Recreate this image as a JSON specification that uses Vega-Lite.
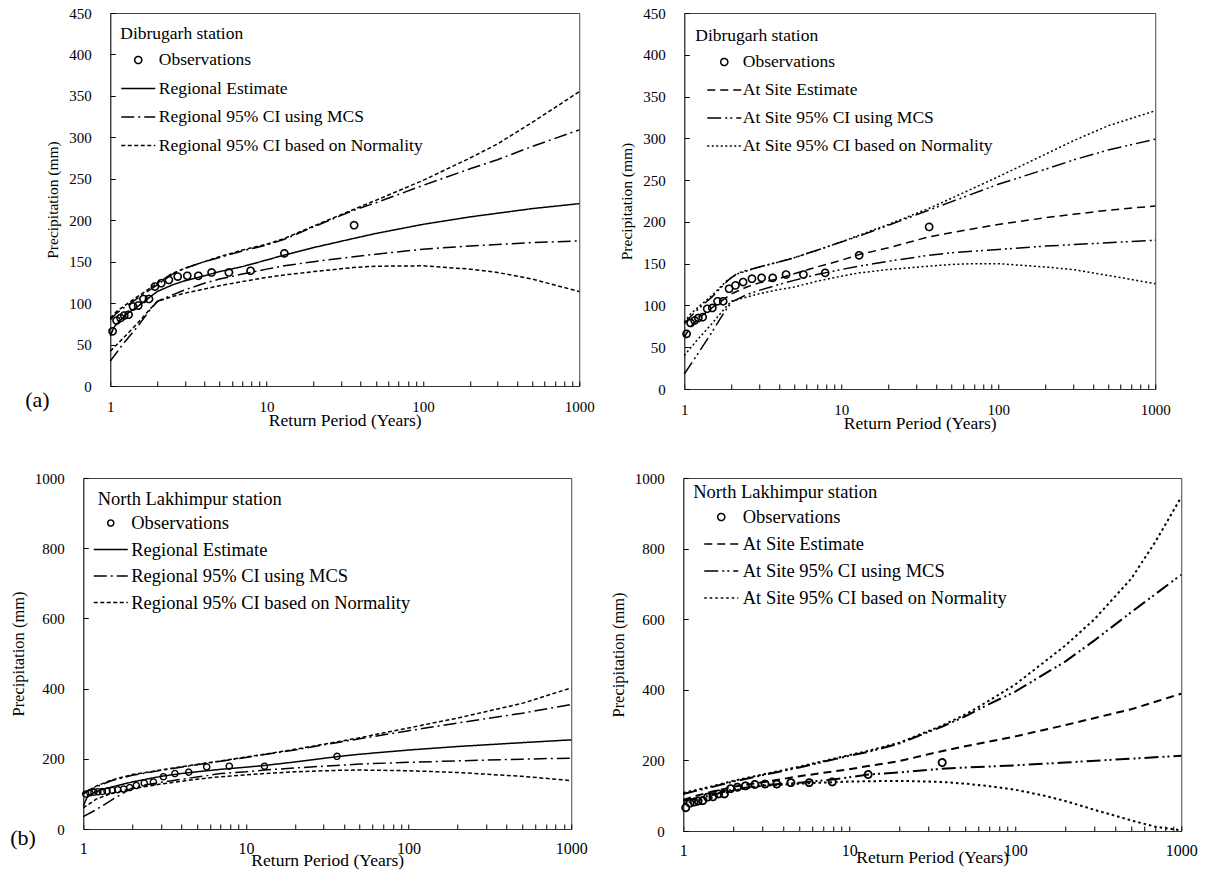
{
"$schema": "https://vega.github.io/schema/vega-lite/v6.json",
"padding": {"left": 9, "top": 5, "right": 5, "bottom": 5},
"background": "white",
"datasets": {
"obs": [
{"stn":"D","s":"Observations","T":1.035,"P":66},{"stn":"D","s":"Observations","T":1.098,"P":79},{"stn":"D","s":"Observations","T":1.164,"P":82},{"stn":"D","s":"Observations","T":1.229,"P":85},{"stn":"D","s":"Observations","T":1.31,"P":86},{"stn":"D","s":"Observations","T":1.40,"P":96},{"stn":"D","s":"Observations","T":1.51,"P":97},{"stn":"D","s":"Observations","T":1.63,"P":105},{"stn":"D","s":"Observations","T":1.77,"P":105},{"stn":"D","s":"Observations","T":1.93,"P":120},{"stn":"D","s":"Observations","T":2.12,"P":124},{"stn":"D","s":"Observations","T":2.37,"P":128},{"stn":"D","s":"Observations","T":2.70,"P":132},{"stn":"D","s":"Observations","T":3.11,"P":133},{"stn":"D","s":"Observations","T":3.66,"P":133},{"stn":"D","s":"Observations","T":4.45,"P":137},{"stn":"D","s":"Observations","T":5.74,"P":137},{"stn":"D","s":"Observations","T":7.9,"P":139},{"stn":"D","s":"Observations","T":13.0,"P":160},{"stn":"D","s":"Observations","T":36.3,"P":194},
{"stn":"N","s":"Observations","T":1.035,"P":100},{"stn":"N","s":"Observations","T":1.098,"P":103},{"stn":"N","s":"Observations","T":1.164,"P":105},{"stn":"N","s":"Observations","T":1.229,"P":106},{"stn":"N","s":"Observations","T":1.31,"P":107},{"stn":"N","s":"Observations","T":1.40,"P":108},{"stn":"N","s":"Observations","T":1.51,"P":110},{"stn":"N","s":"Observations","T":1.63,"P":112},{"stn":"N","s":"Observations","T":1.77,"P":114},{"stn":"N","s":"Observations","T":1.93,"P":118},{"stn":"N","s":"Observations","T":2.12,"P":124},{"stn":"N","s":"Observations","T":2.37,"P":131},{"stn":"N","s":"Observations","T":2.70,"P":134},{"stn":"N","s":"Observations","T":3.11,"P":149},{"stn":"N","s":"Observations","T":3.66,"P":158},{"stn":"N","s":"Observations","T":4.45,"P":162},{"stn":"N","s":"Observations","T":5.74,"P":177},{"stn":"N","s":"Observations","T":7.9,"P":179},{"stn":"N","s":"Observations","T":13.0,"P":179},{"stn":"N","s":"Observations","T":36.3,"P":207}
],
"curves": [
{"p":"A","s":"Regional Estimate","b":"m","T":1,"P":60},{"p":"A","s":"Regional Estimate","b":"m","T":1.05,"P":70},{"p":"A","s":"Regional Estimate","b":"m","T":1.1,"P":75},{"p":"A","s":"Regional Estimate","b":"m","T":1.2,"P":82},{"p":"A","s":"Regional Estimate","b":"m","T":1.3,"P":88},{"p":"A","s":"Regional Estimate","b":"m","T":1.5,"P":96},{"p":"A","s":"Regional Estimate","b":"m","T":1.7,"P":104},{"p":"A","s":"Regional Estimate","b":"m","T":2,"P":114},{"p":"A","s":"Regional Estimate","b":"m","T":2.5,"P":122},{"p":"A","s":"Regional Estimate","b":"m","T":3,"P":127},{"p":"A","s":"Regional Estimate","b":"m","T":4,"P":133},{"p":"A","s":"Regional Estimate","b":"m","T":5,"P":138},{"p":"A","s":"Regional Estimate","b":"m","T":7,"P":144},{"p":"A","s":"Regional Estimate","b":"m","T":10,"P":152},{"p":"A","s":"Regional Estimate","b":"m","T":13,"P":158},{"p":"A","s":"Regional Estimate","b":"m","T":20,"P":167},{"p":"A","s":"Regional Estimate","b":"m","T":36,"P":178},{"p":"A","s":"Regional Estimate","b":"m","T":50,"P":184},{"p":"A","s":"Regional Estimate","b":"m","T":100,"P":195},{"p":"A","s":"Regional Estimate","b":"m","T":200,"P":204},{"p":"A","s":"Regional Estimate","b":"m","T":500,"P":214},{"p":"A","s":"Regional Estimate","b":"m","T":1000,"P":220},
{"p":"A","s":"Regional 95% CI using MCS","b":"u","T":1,"P":80},{"p":"A","s":"Regional 95% CI using MCS","b":"u","T":1.1,"P":88},{"p":"A","s":"Regional 95% CI using MCS","b":"u","T":1.3,"P":98},{"p":"A","s":"Regional 95% CI using MCS","b":"u","T":1.5,"P":106},{"p":"A","s":"Regional 95% CI using MCS","b":"u","T":2,"P":122},{"p":"A","s":"Regional 95% CI using MCS","b":"u","T":2.5,"P":135},{"p":"A","s":"Regional 95% CI using MCS","b":"u","T":3,"P":142},{"p":"A","s":"Regional 95% CI using MCS","b":"u","T":4,"P":150},{"p":"A","s":"Regional 95% CI using MCS","b":"u","T":5,"P":155},{"p":"A","s":"Regional 95% CI using MCS","b":"u","T":7,"P":163},{"p":"A","s":"Regional 95% CI using MCS","b":"u","T":10,"P":170},{"p":"A","s":"Regional 95% CI using MCS","b":"u","T":13,"P":177},{"p":"A","s":"Regional 95% CI using MCS","b":"u","T":20,"P":192},{"p":"A","s":"Regional 95% CI using MCS","b":"u","T":36,"P":212},{"p":"A","s":"Regional 95% CI using MCS","b":"u","T":50,"P":221},{"p":"A","s":"Regional 95% CI using MCS","b":"u","T":100,"P":242},{"p":"A","s":"Regional 95% CI using MCS","b":"u","T":200,"P":262},{"p":"A","s":"Regional 95% CI using MCS","b":"u","T":300,"P":273},{"p":"A","s":"Regional 95% CI using MCS","b":"u","T":500,"P":289},{"p":"A","s":"Regional 95% CI using MCS","b":"u","T":1000,"P":309},
{"p":"A","s":"Regional 95% CI using MCS","b":"l","T":1,"P":30},{"p":"A","s":"Regional 95% CI using MCS","b":"l","T":1.2,"P":50},{"p":"A","s":"Regional 95% CI using MCS","b":"l","T":1.5,"P":72},{"p":"A","s":"Regional 95% CI using MCS","b":"l","T":1.8,"P":92},{"p":"A","s":"Regional 95% CI using MCS","b":"l","T":2,"P":102},{"p":"A","s":"Regional 95% CI using MCS","b":"l","T":2.5,"P":110},{"p":"A","s":"Regional 95% CI using MCS","b":"l","T":3,"P":116},{"p":"A","s":"Regional 95% CI using MCS","b":"l","T":4,"P":124},{"p":"A","s":"Regional 95% CI using MCS","b":"l","T":5,"P":129},{"p":"A","s":"Regional 95% CI using MCS","b":"l","T":7,"P":135},{"p":"A","s":"Regional 95% CI using MCS","b":"l","T":10,"P":141},{"p":"A","s":"Regional 95% CI using MCS","b":"l","T":13,"P":145},{"p":"A","s":"Regional 95% CI using MCS","b":"l","T":20,"P":150},{"p":"A","s":"Regional 95% CI using MCS","b":"l","T":36,"P":156},{"p":"A","s":"Regional 95% CI using MCS","b":"l","T":50,"P":159},{"p":"A","s":"Regional 95% CI using MCS","b":"l","T":100,"P":165},{"p":"A","s":"Regional 95% CI using MCS","b":"l","T":200,"P":169},{"p":"A","s":"Regional 95% CI using MCS","b":"l","T":500,"P":173},{"p":"A","s":"Regional 95% CI using MCS","b":"l","T":1000,"P":175},
{"p":"A","s":"Regional 95% CI based on Normality","b":"u","T":1,"P":82},{"p":"A","s":"Regional 95% CI based on Normality","b":"u","T":1.1,"P":90},{"p":"A","s":"Regional 95% CI based on Normality","b":"u","T":1.3,"P":100},{"p":"A","s":"Regional 95% CI based on Normality","b":"u","T":1.5,"P":108},{"p":"A","s":"Regional 95% CI based on Normality","b":"u","T":2,"P":124},{"p":"A","s":"Regional 95% CI based on Normality","b":"u","T":2.5,"P":136},{"p":"A","s":"Regional 95% CI based on Normality","b":"u","T":3,"P":142},{"p":"A","s":"Regional 95% CI based on Normality","b":"u","T":4,"P":150},{"p":"A","s":"Regional 95% CI based on Normality","b":"u","T":5,"P":156},{"p":"A","s":"Regional 95% CI based on Normality","b":"u","T":7,"P":164},{"p":"A","s":"Regional 95% CI based on Normality","b":"u","T":10,"P":171},{"p":"A","s":"Regional 95% CI based on Normality","b":"u","T":13,"P":178},{"p":"A","s":"Regional 95% CI based on Normality","b":"u","T":20,"P":193},{"p":"A","s":"Regional 95% CI based on Normality","b":"u","T":36,"P":213},{"p":"A","s":"Regional 95% CI based on Normality","b":"u","T":50,"P":224},{"p":"A","s":"Regional 95% CI based on Normality","b":"u","T":100,"P":248},{"p":"A","s":"Regional 95% CI based on Normality","b":"u","T":200,"P":275},{"p":"A","s":"Regional 95% CI based on Normality","b":"u","T":300,"P":292},{"p":"A","s":"Regional 95% CI based on Normality","b":"u","T":500,"P":318},{"p":"A","s":"Regional 95% CI based on Normality","b":"u","T":1000,"P":355},
{"p":"A","s":"Regional 95% CI based on Normality","b":"l","T":1,"P":42},{"p":"A","s":"Regional 95% CI based on Normality","b":"l","T":1.2,"P":57},{"p":"A","s":"Regional 95% CI based on Normality","b":"l","T":1.5,"P":76},{"p":"A","s":"Regional 95% CI based on Normality","b":"l","T":1.8,"P":93},{"p":"A","s":"Regional 95% CI based on Normality","b":"l","T":2,"P":102},{"p":"A","s":"Regional 95% CI based on Normality","b":"l","T":2.5,"P":108},{"p":"A","s":"Regional 95% CI based on Normality","b":"l","T":3,"P":112},{"p":"A","s":"Regional 95% CI based on Normality","b":"l","T":4,"P":117},{"p":"A","s":"Regional 95% CI based on Normality","b":"l","T":5,"P":121},{"p":"A","s":"Regional 95% CI based on Normality","b":"l","T":7,"P":126},{"p":"A","s":"Regional 95% CI based on Normality","b":"l","T":10,"P":131},{"p":"A","s":"Regional 95% CI based on Normality","b":"l","T":13,"P":134},{"p":"A","s":"Regional 95% CI based on Normality","b":"l","T":20,"P":138},{"p":"A","s":"Regional 95% CI based on Normality","b":"l","T":36,"P":143},{"p":"A","s":"Regional 95% CI based on Normality","b":"l","T":50,"P":144.5},{"p":"A","s":"Regional 95% CI based on Normality","b":"l","T":100,"P":145},{"p":"A","s":"Regional 95% CI based on Normality","b":"l","T":200,"P":141},{"p":"A","s":"Regional 95% CI based on Normality","b":"l","T":300,"P":137},{"p":"A","s":"Regional 95% CI based on Normality","b":"l","T":500,"P":129},{"p":"A","s":"Regional 95% CI based on Normality","b":"l","T":1000,"P":114},
{"p":"B","s":"At Site Estimate","b":"m","T":1,"P":62},{"p":"B","s":"At Site Estimate","b":"m","T":1.1,"P":75},{"p":"B","s":"At Site Estimate","b":"m","T":1.3,"P":88},{"p":"B","s":"At Site Estimate","b":"m","T":1.5,"P":97},{"p":"B","s":"At Site Estimate","b":"m","T":2,"P":114},{"p":"B","s":"At Site Estimate","b":"m","T":2.5,"P":122},{"p":"B","s":"At Site Estimate","b":"m","T":3,"P":127},{"p":"B","s":"At Site Estimate","b":"m","T":4,"P":132},{"p":"B","s":"At Site Estimate","b":"m","T":5,"P":138},{"p":"B","s":"At Site Estimate","b":"m","T":7,"P":146},{"p":"B","s":"At Site Estimate","b":"m","T":10,"P":154},{"p":"B","s":"At Site Estimate","b":"m","T":13,"P":161},{"p":"B","s":"At Site Estimate","b":"m","T":20,"P":169},{"p":"B","s":"At Site Estimate","b":"m","T":36,"P":182},{"p":"B","s":"At Site Estimate","b":"m","T":50,"P":187},{"p":"B","s":"At Site Estimate","b":"m","T":100,"P":197},{"p":"B","s":"At Site Estimate","b":"m","T":200,"P":205},{"p":"B","s":"At Site Estimate","b":"m","T":300,"P":209},{"p":"B","s":"At Site Estimate","b":"m","T":500,"P":214},{"p":"B","s":"At Site Estimate","b":"m","T":1000,"P":219},
{"p":"B","s":"At Site 95% CI using MCS","b":"u","T":1,"P":78},{"p":"B","s":"At Site 95% CI using MCS","b":"u","T":1.1,"P":87},{"p":"B","s":"At Site 95% CI using MCS","b":"u","T":1.3,"P":100},{"p":"B","s":"At Site 95% CI using MCS","b":"u","T":1.5,"P":110},{"p":"B","s":"At Site 95% CI using MCS","b":"u","T":1.9,"P":130},{"p":"B","s":"At Site 95% CI using MCS","b":"u","T":2.2,"P":139},{"p":"B","s":"At Site 95% CI using MCS","b":"u","T":3,"P":146},{"p":"B","s":"At Site 95% CI using MCS","b":"u","T":4,"P":152},{"p":"B","s":"At Site 95% CI using MCS","b":"u","T":5,"P":157},{"p":"B","s":"At Site 95% CI using MCS","b":"u","T":7,"P":166},{"p":"B","s":"At Site 95% CI using MCS","b":"u","T":10,"P":176},{"p":"B","s":"At Site 95% CI using MCS","b":"u","T":13,"P":183},{"p":"B","s":"At Site 95% CI using MCS","b":"u","T":20,"P":196},{"p":"B","s":"At Site 95% CI using MCS","b":"u","T":36,"P":214},{"p":"B","s":"At Site 95% CI using MCS","b":"u","T":50,"P":224},{"p":"B","s":"At Site 95% CI using MCS","b":"u","T":100,"P":245},{"p":"B","s":"At Site 95% CI using MCS","b":"u","T":200,"P":263},{"p":"B","s":"At Site 95% CI using MCS","b":"u","T":300,"P":274},{"p":"B","s":"At Site 95% CI using MCS","b":"u","T":500,"P":286},{"p":"B","s":"At Site 95% CI using MCS","b":"u","T":1000,"P":299},
{"p":"B","s":"At Site 95% CI using MCS","b":"l","T":1,"P":18},{"p":"B","s":"At Site 95% CI using MCS","b":"l","T":1.2,"P":40},{"p":"B","s":"At Site 95% CI using MCS","b":"l","T":1.5,"P":68},{"p":"B","s":"At Site 95% CI using MCS","b":"l","T":1.8,"P":92},{"p":"B","s":"At Site 95% CI using MCS","b":"l","T":2,"P":104},{"p":"B","s":"At Site 95% CI using MCS","b":"l","T":2.5,"P":113},{"p":"B","s":"At Site 95% CI using MCS","b":"l","T":3,"P":118},{"p":"B","s":"At Site 95% CI using MCS","b":"l","T":4,"P":125},{"p":"B","s":"At Site 95% CI using MCS","b":"l","T":5,"P":130},{"p":"B","s":"At Site 95% CI using MCS","b":"l","T":7,"P":137},{"p":"B","s":"At Site 95% CI using MCS","b":"l","T":10,"P":143},{"p":"B","s":"At Site 95% CI using MCS","b":"l","T":13,"P":147},{"p":"B","s":"At Site 95% CI using MCS","b":"l","T":20,"P":153},{"p":"B","s":"At Site 95% CI using MCS","b":"l","T":36,"P":160},{"p":"B","s":"At Site 95% CI using MCS","b":"l","T":50,"P":163},{"p":"B","s":"At Site 95% CI using MCS","b":"l","T":100,"P":167},{"p":"B","s":"At Site 95% CI using MCS","b":"l","T":200,"P":171},{"p":"B","s":"At Site 95% CI using MCS","b":"l","T":500,"P":175},{"p":"B","s":"At Site 95% CI using MCS","b":"l","T":1000,"P":178},
{"p":"B","s":"At Site 95% CI based on Normality","b":"u","T":1,"P":80},{"p":"B","s":"At Site 95% CI based on Normality","b":"u","T":1.1,"P":90},{"p":"B","s":"At Site 95% CI based on Normality","b":"u","T":1.3,"P":102},{"p":"B","s":"At Site 95% CI based on Normality","b":"u","T":1.5,"P":112},{"p":"B","s":"At Site 95% CI based on Normality","b":"u","T":1.9,"P":131},{"p":"B","s":"At Site 95% CI based on Normality","b":"u","T":2.2,"P":138},{"p":"B","s":"At Site 95% CI based on Normality","b":"u","T":3,"P":146},{"p":"B","s":"At Site 95% CI based on Normality","b":"u","T":4,"P":152},{"p":"B","s":"At Site 95% CI based on Normality","b":"u","T":5,"P":157},{"p":"B","s":"At Site 95% CI based on Normality","b":"u","T":7,"P":166},{"p":"B","s":"At Site 95% CI based on Normality","b":"u","T":10,"P":176},{"p":"B","s":"At Site 95% CI based on Normality","b":"u","T":13,"P":184},{"p":"B","s":"At Site 95% CI based on Normality","b":"u","T":20,"P":197},{"p":"B","s":"At Site 95% CI based on Normality","b":"u","T":36,"P":216},{"p":"B","s":"At Site 95% CI based on Normality","b":"u","T":50,"P":228},{"p":"B","s":"At Site 95% CI based on Normality","b":"u","T":100,"P":254},{"p":"B","s":"At Site 95% CI based on Normality","b":"u","T":200,"P":281},{"p":"B","s":"At Site 95% CI based on Normality","b":"u","T":300,"P":297},{"p":"B","s":"At Site 95% CI based on Normality","b":"u","T":500,"P":315},{"p":"B","s":"At Site 95% CI based on Normality","b":"u","T":1000,"P":333},
{"p":"B","s":"At Site 95% CI based on Normality","b":"l","T":1,"P":40},{"p":"B","s":"At Site 95% CI based on Normality","b":"l","T":1.2,"P":58},{"p":"B","s":"At Site 95% CI based on Normality","b":"l","T":1.5,"P":78},{"p":"B","s":"At Site 95% CI based on Normality","b":"l","T":1.8,"P":96},{"p":"B","s":"At Site 95% CI based on Normality","b":"l","T":2,"P":105},{"p":"B","s":"At Site 95% CI based on Normality","b":"l","T":2.5,"P":110},{"p":"B","s":"At Site 95% CI based on Normality","b":"l","T":3,"P":114},{"p":"B","s":"At Site 95% CI based on Normality","b":"l","T":4,"P":119},{"p":"B","s":"At Site 95% CI based on Normality","b":"l","T":5,"P":122},{"p":"B","s":"At Site 95% CI based on Normality","b":"l","T":7,"P":129},{"p":"B","s":"At Site 95% CI based on Normality","b":"l","T":10,"P":135},{"p":"B","s":"At Site 95% CI based on Normality","b":"l","T":13,"P":139},{"p":"B","s":"At Site 95% CI based on Normality","b":"l","T":20,"P":143},{"p":"B","s":"At Site 95% CI based on Normality","b":"l","T":36,"P":147},{"p":"B","s":"At Site 95% CI based on Normality","b":"l","T":50,"P":149},{"p":"B","s":"At Site 95% CI based on Normality","b":"l","T":70,"P":150},{"p":"B","s":"At Site 95% CI based on Normality","b":"l","T":100,"P":150},{"p":"B","s":"At Site 95% CI based on Normality","b":"l","T":200,"P":146},{"p":"B","s":"At Site 95% CI based on Normality","b":"l","T":300,"P":143},{"p":"B","s":"At Site 95% CI based on Normality","b":"l","T":500,"P":136},{"p":"B","s":"At Site 95% CI based on Normality","b":"l","T":1000,"P":126},
{"p":"C","s":"Regional Estimate","b":"m","T":1,"P":65},{"p":"C","s":"Regional Estimate","b":"m","T":1.05,"P":88},{"p":"C","s":"Regional Estimate","b":"m","T":1.1,"P":98},{"p":"C","s":"Regional Estimate","b":"m","T":1.2,"P":106},{"p":"C","s":"Regional Estimate","b":"m","T":1.3,"P":112},{"p":"C","s":"Regional Estimate","b":"m","T":1.5,"P":120},{"p":"C","s":"Regional Estimate","b":"m","T":2,"P":134},{"p":"C","s":"Regional Estimate","b":"m","T":3,"P":150},{"p":"C","s":"Regional Estimate","b":"m","T":4,"P":158},{"p":"C","s":"Regional Estimate","b":"m","T":5,"P":163},{"p":"C","s":"Regional Estimate","b":"m","T":7,"P":170},{"p":"C","s":"Regional Estimate","b":"m","T":10,"P":176},{"p":"C","s":"Regional Estimate","b":"m","T":13,"P":181},{"p":"C","s":"Regional Estimate","b":"m","T":20,"P":191},{"p":"C","s":"Regional Estimate","b":"m","T":36,"P":206},{"p":"C","s":"Regional Estimate","b":"m","T":50,"P":213},{"p":"C","s":"Regional Estimate","b":"m","T":100,"P":225},{"p":"C","s":"Regional Estimate","b":"m","T":200,"P":235},{"p":"C","s":"Regional Estimate","b":"m","T":500,"P":246},{"p":"C","s":"Regional Estimate","b":"m","T":1000,"P":254},
{"p":"C","s":"Regional 95% CI using MCS","b":"u","T":1,"P":100},{"p":"C","s":"Regional 95% CI using MCS","b":"u","T":1.2,"P":120},{"p":"C","s":"Regional 95% CI using MCS","b":"u","T":1.5,"P":138},{"p":"C","s":"Regional 95% CI using MCS","b":"u","T":2,"P":153},{"p":"C","s":"Regional 95% CI using MCS","b":"u","T":3,"P":167},{"p":"C","s":"Regional 95% CI using MCS","b":"u","T":5,"P":183},{"p":"C","s":"Regional 95% CI using MCS","b":"u","T":7,"P":193},{"p":"C","s":"Regional 95% CI using MCS","b":"u","T":10,"P":204},{"p":"C","s":"Regional 95% CI using MCS","b":"u","T":13,"P":212},{"p":"C","s":"Regional 95% CI using MCS","b":"u","T":20,"P":225},{"p":"C","s":"Regional 95% CI using MCS","b":"u","T":36,"P":246},{"p":"C","s":"Regional 95% CI using MCS","b":"u","T":50,"P":257},{"p":"C","s":"Regional 95% CI using MCS","b":"u","T":100,"P":280},{"p":"C","s":"Regional 95% CI using MCS","b":"u","T":200,"P":302},{"p":"C","s":"Regional 95% CI using MCS","b":"u","T":500,"P":330},{"p":"C","s":"Regional 95% CI using MCS","b":"u","T":1000,"P":355},
{"p":"C","s":"Regional 95% CI using MCS","b":"l","T":1,"P":35},{"p":"C","s":"Regional 95% CI using MCS","b":"l","T":1.2,"P":55},{"p":"C","s":"Regional 95% CI using MCS","b":"l","T":1.5,"P":83},{"p":"C","s":"Regional 95% CI using MCS","b":"l","T":1.8,"P":105},{"p":"C","s":"Regional 95% CI using MCS","b":"l","T":2,"P":117},{"p":"C","s":"Regional 95% CI using MCS","b":"l","T":2.5,"P":127},{"p":"C","s":"Regional 95% CI using MCS","b":"l","T":3,"P":133},{"p":"C","s":"Regional 95% CI using MCS","b":"l","T":5,"P":148},{"p":"C","s":"Regional 95% CI using MCS","b":"l","T":7,"P":158},{"p":"C","s":"Regional 95% CI using MCS","b":"l","T":10,"P":163},{"p":"C","s":"Regional 95% CI using MCS","b":"l","T":13,"P":168},{"p":"C","s":"Regional 95% CI using MCS","b":"l","T":20,"P":174},{"p":"C","s":"Regional 95% CI using MCS","b":"l","T":36,"P":181},{"p":"C","s":"Regional 95% CI using MCS","b":"l","T":50,"P":185},{"p":"C","s":"Regional 95% CI using MCS","b":"l","T":100,"P":190},{"p":"C","s":"Regional 95% CI using MCS","b":"l","T":200,"P":194},{"p":"C","s":"Regional 95% CI using MCS","b":"l","T":500,"P":199},{"p":"C","s":"Regional 95% CI using MCS","b":"l","T":1000,"P":202},
{"p":"C","s":"Regional 95% CI based on Normality","b":"u","T":1,"P":102},{"p":"C","s":"Regional 95% CI based on Normality","b":"u","T":1.2,"P":122},{"p":"C","s":"Regional 95% CI based on Normality","b":"u","T":1.5,"P":140},{"p":"C","s":"Regional 95% CI based on Normality","b":"u","T":2,"P":155},{"p":"C","s":"Regional 95% CI based on Normality","b":"u","T":3,"P":168},{"p":"C","s":"Regional 95% CI based on Normality","b":"u","T":5,"P":184},{"p":"C","s":"Regional 95% CI based on Normality","b":"u","T":7,"P":194},{"p":"C","s":"Regional 95% CI based on Normality","b":"u","T":10,"P":205},{"p":"C","s":"Regional 95% CI based on Normality","b":"u","T":13,"P":213},{"p":"C","s":"Regional 95% CI based on Normality","b":"u","T":20,"P":227},{"p":"C","s":"Regional 95% CI based on Normality","b":"u","T":36,"P":248},{"p":"C","s":"Regional 95% CI based on Normality","b":"u","T":50,"P":260},{"p":"C","s":"Regional 95% CI based on Normality","b":"u","T":100,"P":288},{"p":"C","s":"Regional 95% CI based on Normality","b":"u","T":200,"P":316},{"p":"C","s":"Regional 95% CI based on Normality","b":"u","T":500,"P":358},{"p":"C","s":"Regional 95% CI based on Normality","b":"u","T":1000,"P":402},
{"p":"C","s":"Regional 95% CI based on Normality","b":"l","T":1,"P":60},{"p":"C","s":"Regional 95% CI based on Normality","b":"l","T":1.2,"P":85},{"p":"C","s":"Regional 95% CI based on Normality","b":"l","T":1.5,"P":102},{"p":"C","s":"Regional 95% CI based on Normality","b":"l","T":2,"P":115},{"p":"C","s":"Regional 95% CI based on Normality","b":"l","T":3,"P":128},{"p":"C","s":"Regional 95% CI based on Normality","b":"l","T":5,"P":142},{"p":"C","s":"Regional 95% CI based on Normality","b":"l","T":7,"P":149},{"p":"C","s":"Regional 95% CI based on Normality","b":"l","T":10,"P":154},{"p":"C","s":"Regional 95% CI based on Normality","b":"l","T":13,"P":158},{"p":"C","s":"Regional 95% CI based on Normality","b":"l","T":20,"P":163},{"p":"C","s":"Regional 95% CI based on Normality","b":"l","T":36,"P":167},{"p":"C","s":"Regional 95% CI based on Normality","b":"l","T":50,"P":168},{"p":"C","s":"Regional 95% CI based on Normality","b":"l","T":100,"P":166},{"p":"C","s":"Regional 95% CI based on Normality","b":"l","T":200,"P":161},{"p":"C","s":"Regional 95% CI based on Normality","b":"l","T":500,"P":150},{"p":"C","s":"Regional 95% CI based on Normality","b":"l","T":1000,"P":138},
{"p":"D","s":"At Site Estimate","b":"m","T":1,"P":88},{"p":"D","s":"At Site Estimate","b":"m","T":1.2,"P":100},{"p":"D","s":"At Site Estimate","b":"m","T":1.5,"P":112},{"p":"D","s":"At Site Estimate","b":"m","T":2,"P":125},{"p":"D","s":"At Site Estimate","b":"m","T":3,"P":138},{"p":"D","s":"At Site Estimate","b":"m","T":5,"P":155},{"p":"D","s":"At Site Estimate","b":"m","T":7,"P":165},{"p":"D","s":"At Site Estimate","b":"m","T":10,"P":175},{"p":"D","s":"At Site Estimate","b":"m","T":13,"P":184},{"p":"D","s":"At Site Estimate","b":"m","T":20,"P":198},{"p":"D","s":"At Site Estimate","b":"m","T":36,"P":226},{"p":"D","s":"At Site Estimate","b":"m","T":50,"P":240},{"p":"D","s":"At Site Estimate","b":"m","T":100,"P":268},{"p":"D","s":"At Site Estimate","b":"m","T":200,"P":300},{"p":"D","s":"At Site Estimate","b":"m","T":500,"P":345},{"p":"D","s":"At Site Estimate","b":"m","T":1000,"P":389},
{"p":"D","s":"At Site 95% CI using MCS","b":"u","T":1,"P":105},{"p":"D","s":"At Site 95% CI using MCS","b":"u","T":1.5,"P":125},{"p":"D","s":"At Site 95% CI using MCS","b":"u","T":2,"P":140},{"p":"D","s":"At Site 95% CI using MCS","b":"u","T":3,"P":158},{"p":"D","s":"At Site 95% CI using MCS","b":"u","T":5,"P":180},{"p":"D","s":"At Site 95% CI using MCS","b":"u","T":7,"P":196},{"p":"D","s":"At Site 95% CI using MCS","b":"u","T":10,"P":213},{"p":"D","s":"At Site 95% CI using MCS","b":"u","T":13,"P":224},{"p":"D","s":"At Site 95% CI using MCS","b":"u","T":20,"P":248},{"p":"D","s":"At Site 95% CI using MCS","b":"u","T":36,"P":295},{"p":"D","s":"At Site 95% CI using MCS","b":"u","T":50,"P":325},{"p":"D","s":"At Site 95% CI using MCS","b":"u","T":70,"P":360},{"p":"D","s":"At Site 95% CI using MCS","b":"u","T":100,"P":395},{"p":"D","s":"At Site 95% CI using MCS","b":"u","T":200,"P":480},{"p":"D","s":"At Site 95% CI using MCS","b":"u","T":300,"P":540},{"p":"D","s":"At Site 95% CI using MCS","b":"u","T":500,"P":620},{"p":"D","s":"At Site 95% CI using MCS","b":"u","T":1000,"P":726},
{"p":"D","s":"At Site 95% CI using MCS","b":"l","T":1,"P":85},{"p":"D","s":"At Site 95% CI using MCS","b":"l","T":1.5,"P":102},{"p":"D","s":"At Site 95% CI using MCS","b":"l","T":2,"P":118},{"p":"D","s":"At Site 95% CI using MCS","b":"l","T":3,"P":130},{"p":"D","s":"At Site 95% CI using MCS","b":"l","T":5,"P":137},{"p":"D","s":"At Site 95% CI using MCS","b":"l","T":7,"P":143},{"p":"D","s":"At Site 95% CI using MCS","b":"l","T":10,"P":152},{"p":"D","s":"At Site 95% CI using MCS","b":"l","T":13,"P":160},{"p":"D","s":"At Site 95% CI using MCS","b":"l","T":20,"P":166},{"p":"D","s":"At Site 95% CI using MCS","b":"l","T":36,"P":176},{"p":"D","s":"At Site 95% CI using MCS","b":"l","T":50,"P":180},{"p":"D","s":"At Site 95% CI using MCS","b":"l","T":100,"P":186},{"p":"D","s":"At Site 95% CI using MCS","b":"l","T":200,"P":194},{"p":"D","s":"At Site 95% CI using MCS","b":"l","T":500,"P":205},{"p":"D","s":"At Site 95% CI using MCS","b":"l","T":1000,"P":213},
{"p":"D","s":"At Site 95% CI based on Normality","b":"u","T":1,"P":108},{"p":"D","s":"At Site 95% CI based on Normality","b":"u","T":1.5,"P":127},{"p":"D","s":"At Site 95% CI based on Normality","b":"u","T":2,"P":142},{"p":"D","s":"At Site 95% CI based on Normality","b":"u","T":3,"P":160},{"p":"D","s":"At Site 95% CI based on Normality","b":"u","T":5,"P":182},{"p":"D","s":"At Site 95% CI based on Normality","b":"u","T":7,"P":198},{"p":"D","s":"At Site 95% CI based on Normality","b":"u","T":10,"P":215},{"p":"D","s":"At Site 95% CI based on Normality","b":"u","T":13,"P":227},{"p":"D","s":"At Site 95% CI based on Normality","b":"u","T":20,"P":250},{"p":"D","s":"At Site 95% CI based on Normality","b":"u","T":36,"P":298},{"p":"D","s":"At Site 95% CI based on Normality","b":"u","T":50,"P":330},{"p":"D","s":"At Site 95% CI based on Normality","b":"u","T":70,"P":370},{"p":"D","s":"At Site 95% CI based on Normality","b":"u","T":100,"P":415},{"p":"D","s":"At Site 95% CI based on Normality","b":"u","T":200,"P":525},{"p":"D","s":"At Site 95% CI based on Normality","b":"u","T":300,"P":600},{"p":"D","s":"At Site 95% CI based on Normality","b":"u","T":500,"P":715},{"p":"D","s":"At Site 95% CI based on Normality","b":"u","T":700,"P":820},{"p":"D","s":"At Site 95% CI based on Normality","b":"u","T":1000,"P":946},
{"p":"D","s":"At Site 95% CI based on Normality","b":"l","T":1,"P":78},{"p":"D","s":"At Site 95% CI based on Normality","b":"l","T":1.5,"P":95},{"p":"D","s":"At Site 95% CI based on Normality","b":"l","T":2,"P":115},{"p":"D","s":"At Site 95% CI based on Normality","b":"l","T":3,"P":128},{"p":"D","s":"At Site 95% CI based on Normality","b":"l","T":5,"P":134},{"p":"D","s":"At Site 95% CI based on Normality","b":"l","T":7,"P":137},{"p":"D","s":"At Site 95% CI based on Normality","b":"l","T":10,"P":140},{"p":"D","s":"At Site 95% CI based on Normality","b":"l","T":13,"P":141},{"p":"D","s":"At Site 95% CI based on Normality","b":"l","T":20,"P":142},{"p":"D","s":"At Site 95% CI based on Normality","b":"l","T":36,"P":139},{"p":"D","s":"At Site 95% CI based on Normality","b":"l","T":50,"P":134},{"p":"D","s":"At Site 95% CI based on Normality","b":"l","T":70,"P":127},{"p":"D","s":"At Site 95% CI based on Normality","b":"l","T":100,"P":117},{"p":"D","s":"At Site 95% CI based on Normality","b":"l","T":150,"P":100},{"p":"D","s":"At Site 95% CI based on Normality","b":"l","T":200,"P":85},{"p":"D","s":"At Site 95% CI based on Normality","b":"l","T":300,"P":60},{"p":"D","s":"At Site 95% CI based on Normality","b":"l","T":500,"P":30},{"p":"D","s":"At Site 95% CI based on Normality","b":"l","T":700,"P":12},{"p":"D","s":"At Site 95% CI based on Normality","b":"l","T":1000,"P":2}
]
},
"vconcat": [
{"hconcat": [
{"width": 469, "height": 373,
 "title": {"text": "(a)", "orient": "bottom", "anchor": "start", "frame": "group", "align": "left", "dx": -85, "dy": -39, "fontSize": 22, "fontWeight": "normal", "offset": 0},
 "layer": [
 {"data": {"name": "curves"}, "transform": [{"filter": "datum.p === 'A'"}],
  "mark": {"type": "line", "color": "black", "strokeWidth": 1.5},
  "encoding": {
   "x": {"field": "T", "type": "quantitative", "scale": {"type": "log", "domain": [1, 1000]}, "axis": {"title": "Return Period (Years)", "values": [1,2,3,4,5,6,7,8,9,10,20,30,40,50,60,70,80,90,100,200,300,400,500,600,700,800,900,1000], "format": "d", "labelExpr": "indexof([1,10,100,1000], datum.value) >= 0 ? datum.label : ''"}},
   "y": {"field": "P", "type": "quantitative", "scale": {"domain": [0, 450]}, "axis": {"title": "Precipitation (mm)", "format": "d", "values": [0,50,100,150,200,250,300,350,400,450]}},
   "detail": {"field": "b", "type": "nominal"},
   "strokeDash": {"field": "s", "type": "nominal", "scale": {"domain": ["Observations","Regional Estimate","Regional 95% CI using MCS","Regional 95% CI based on Normality"], "range": [[1,0],[1,0],[13,4,2,4],[4,2.5]]}, "legend": {"title": "Dibrugarh station", "orient": "none", "legendX": 10, "legendY": 12, "symbolOffset": 8.5, "labelOffset": 11, "rowPadding": 10.5, "titleFontSize": 17.5, "labelFontSize": 17.5}}
  }},
 {"data": {"name": "obs"}, "transform": [{"filter": "datum.stn === 'D'"}],
  "mark": {"type": "point", "filled": false, "color": "black", "strokeWidth": 1.6, "size": 289, "opacity": 1},
  "encoding": {
   "x": {"field": "T", "type": "quantitative"},
   "y": {"field": "P", "type": "quantitative"},
   "shape": {"field": "s", "type": "nominal", "scale": {"domain": ["Observations","Regional Estimate","Regional 95% CI using MCS","Regional 95% CI based on Normality"], "range": ["M0.42,0A0.42,0.42,0,1,1,-0.42,0A0.42,0.42,0,1,1,0.42,0Z","M-2,0L2,0","M-2,0L2,0","M-2,0L2,0"]}, "legend": {"title": "Dibrugarh station", "orient": "none", "legendX": 10, "legendY": 12, "symbolOffset": 8.5, "labelOffset": 11, "rowPadding": 10.5, "titleFontSize": 17.5, "labelFontSize": 17.5}},
   "strokeDash": {"field": "s", "type": "nominal", "legend": {"title": "Dibrugarh station", "orient": "none", "legendX": 10, "legendY": 12, "symbolOffset": 8.5, "labelOffset": 11, "rowPadding": 10.5, "titleFontSize": 17.5, "labelFontSize": 17.5}}
  }}
 ]},
{"width": 471, "height": 376,
 "layer": [
 {"data": {"name": "curves"}, "transform": [{"filter": "datum.p === 'B'"}],
  "mark": {"type": "line", "color": "black", "strokeWidth": 1.5},
  "encoding": {
   "x": {"field": "T", "type": "quantitative", "scale": {"type": "log", "domain": [1, 1000]}, "axis": {"title": "Return Period (Years)", "values": [1,2,3,4,5,6,7,8,9,10,20,30,40,50,60,70,80,90,100,200,300,400,500,600,700,800,900,1000], "format": "d", "labelExpr": "indexof([1,10,100,1000], datum.value) >= 0 ? datum.label : ''"}},
   "y": {"field": "P", "type": "quantitative", "scale": {"domain": [0, 450]}, "axis": {"title": "Precipitation (mm)", "format": "d", "values": [0,50,100,150,200,250,300,350,400,450]}},
   "detail": {"field": "b", "type": "nominal"},
   "strokeDash": {"field": "s", "type": "nominal", "scale": {"domain": ["Observations","At Site Estimate","At Site 95% CI using MCS","At Site 95% CI based on Normality"], "range": [[1,0],[8,5],[14,4,2,3,2,4],[2,2.5]]}, "legend": {"title": "Dibrugarh station", "orient": "none", "legendX": 11, "legendY": 14, "symbolOffset": 19.5, "labelOffset": 9, "rowPadding": 10, "titleFontSize": 17.5, "labelFontSize": 17.5}}
  }},
 {"data": {"name": "obs"}, "transform": [{"filter": "datum.stn === 'D'"}],
  "mark": {"type": "point", "filled": false, "color": "black", "strokeWidth": 1.6, "size": 289, "opacity": 1},
  "encoding": {
   "x": {"field": "T", "type": "quantitative"},
   "y": {"field": "P", "type": "quantitative"},
   "shape": {"field": "s", "type": "nominal", "scale": {"domain": ["Observations","At Site Estimate","At Site 95% CI using MCS","At Site 95% CI based on Normality"], "range": ["M0.42,0A0.42,0.42,0,1,1,-0.42,0A0.42,0.42,0,1,1,0.42,0Z","M-2,0L2,0","M-2,0L2,0","M-2,0L2,0"]}, "legend": {"title": "Dibrugarh station", "orient": "none", "legendX": 11, "legendY": 14, "symbolOffset": 19.5, "labelOffset": 9, "rowPadding": 10, "titleFontSize": 17.5, "labelFontSize": 17.5}},
   "strokeDash": {"field": "s", "type": "nominal", "legend": {"title": "Dibrugarh station", "orient": "none", "legendX": 11, "legendY": 14, "symbolOffset": 19.5, "labelOffset": 9, "rowPadding": 10, "titleFontSize": 17.5, "labelFontSize": 17.5}}
  }}
 ]}
], "spacing": 105, "bounds": "flush",
 "resolve": {"scale": {"shape": "independent", "strokeDash": "independent"}, "legend": {"shape": "independent", "strokeDash": "independent"}}},
{"hconcat": [
{"width": 488, "height": 351,
 "title": {"text": "(b)", "orient": "bottom", "anchor": "start", "frame": "group", "align": "left", "dx": -73, "dy": -41, "fontSize": 22, "fontWeight": "normal", "offset": 0},
 "layer": [
 {"data": {"name": "curves"}, "transform": [{"filter": "datum.p === 'C'"}],
  "mark": {"type": "line", "color": "black", "strokeWidth": 1.5},
  "encoding": {
   "x": {"field": "T", "type": "quantitative", "scale": {"type": "log", "domain": [1, 1000]}, "axis": {"title": "Return Period (Years)", "labelPadding": 16, "titlePadding": -5, "labelFontSize": 16, "values": [1,2,3,4,5,6,7,8,9,10,20,30,40,50,60,70,80,90,100,200,300,400,500,600,700,800,900,1000], "format": "d", "labelExpr": "indexof([1,10,100,1000], datum.value) >= 0 ? datum.label : ''"}},
   "y": {"field": "P", "type": "quantitative", "scale": {"domain": [0, 1000]}, "axis": {"title": "Precipitation (mm)", "titleFontSize": 16.5, "format": "d", "values": [0,200,400,600,800,1000]}},
   "detail": {"field": "b", "type": "nominal"},
   "strokeDash": {"field": "s", "type": "nominal", "scale": {"domain": ["Observations","Regional Estimate","Regional 95% CI using MCS","Regional 95% CI based on Normality"], "range": [[1,0],[1,0],[13,4,2,4],[4,2.5]]}, "legend": {"title": "North Lakhimpur station", "orient": "none", "legendX": 14.5, "legendY": 12, "symbolOffset": 3.5, "labelOffset": 11, "rowPadding": 7.5, "titlePadding": 5, "titleFontSize": 18.5, "labelFontSize": 18.5}}
  }},
 {"data": {"name": "obs"}, "transform": [{"filter": "datum.stn === 'N'"}],
  "mark": {"type": "point", "filled": false, "color": "black", "strokeWidth": 1.4, "size": 289, "opacity": 1},
  "encoding": {
   "x": {"field": "T", "type": "quantitative"},
   "y": {"field": "P", "type": "quantitative"},
   "shape": {"field": "s", "type": "nominal", "scale": {"domain": ["Observations","Regional Estimate","Regional 95% CI using MCS","Regional 95% CI based on Normality"], "range": ["M0.36,0A0.36,0.36,0,1,1,-0.36,0A0.36,0.36,0,1,1,0.36,0Z","M-2,0L2,0","M-2,0L2,0","M-2,0L2,0"]}, "legend": {"title": "North Lakhimpur station", "orient": "none", "legendX": 14.5, "legendY": 12, "symbolOffset": 3.5, "labelOffset": 11, "rowPadding": 7.5, "titlePadding": 5, "titleFontSize": 18.5, "labelFontSize": 18.5}},
   "strokeDash": {"field": "s", "type": "nominal", "legend": {"title": "North Lakhimpur station", "orient": "none", "legendX": 14.5, "legendY": 12, "symbolOffset": 3.5, "labelOffset": 11, "rowPadding": 7.5, "titlePadding": 5, "titleFontSize": 18.5, "labelFontSize": 18.5}}
  }}
 ]},
{"width": 498, "height": 353,
 "layer": [
 {"data": {"name": "curves"}, "transform": [{"filter": "datum.p === 'D'"}],
  "mark": {"type": "line", "color": "black", "strokeWidth": 2},
  "encoding": {
   "x": {"field": "T", "type": "quantitative", "scale": {"type": "log", "domain": [1, 1000]}, "axis": {"title": "Return Period (Years)", "labelPadding": 16, "titlePadding": -10, "labelFontSize": 16, "values": [1,2,3,4,5,6,7,8,9,10,20,30,40,50,60,70,80,90,100,200,300,400,500,600,700,800,900,1000], "format": "d", "labelExpr": "indexof([1,10,100,1000], datum.value) >= 0 ? datum.label : ''"}},
   "y": {"field": "P", "type": "quantitative", "scale": {"domain": [0, 1000]}, "axis": {"title": "Precipitation (mm)", "titleFontSize": 16.5, "format": "d", "values": [0,200,400,600,800,1000]}},
   "detail": {"field": "b", "type": "nominal"},
   "strokeDash": {"field": "s", "type": "nominal", "scale": {"domain": ["Observations","At Site Estimate","At Site 95% CI using MCS","At Site 95% CI based on Normality"], "range": [[1,0],[8,5],[14,4,2,3,2,4],[2.5,3]]}, "legend": {"title": "North Lakhimpur station", "orient": "none", "legendX": 10, "legendY": 5, "symbolOffset": 18.5, "labelOffset": 12, "rowPadding": 8, "titlePadding": 6, "titleFontSize": 18.5, "labelFontSize": 18.5}}
  }},
 {"data": {"name": "obs"}, "transform": [{"filter": "datum.stn === 'D'"}],
  "mark": {"type": "point", "filled": false, "color": "black", "strokeWidth": 1.8, "size": 289, "opacity": 1},
  "encoding": {
   "x": {"field": "T", "type": "quantitative"},
   "y": {"field": "P", "type": "quantitative"},
   "shape": {"field": "s", "type": "nominal", "scale": {"domain": ["Observations","At Site Estimate","At Site 95% CI using MCS","At Site 95% CI based on Normality"], "range": ["M0.42,0A0.42,0.42,0,1,1,-0.42,0A0.42,0.42,0,1,1,0.42,0Z","M-2,0L2,0","M-2,0L2,0","M-2,0L2,0"]}, "legend": {"title": "North Lakhimpur station", "orient": "none", "legendX": 10, "legendY": 5, "symbolOffset": 18.5, "labelOffset": 12, "rowPadding": 8, "titlePadding": 6, "titleFontSize": 18.5, "labelFontSize": 18.5}},
   "strokeDash": {"field": "s", "type": "nominal", "legend": {"title": "North Lakhimpur station", "orient": "none", "legendX": 10, "legendY": 5, "symbolOffset": 18.5, "labelOffset": 12, "rowPadding": 8, "titlePadding": 6, "titleFontSize": 18.5, "labelFontSize": 18.5}}
  }}
 ]}
], "spacing": 112, "bounds": "flush",
 "resolve": {"scale": {"shape": "independent", "strokeDash": "independent"}, "legend": {"shape": "independent", "strokeDash": "independent"}}}
],
"spacing": 38,
"center": true,
"resolve": {"scale": {"shape": "independent", "strokeDash": "independent"}, "legend": {"shape": "independent", "strokeDash": "independent"}},
"config": {
 "font": "Liberation Serif",
 "view": {"stroke": "#444", "strokeWidth": 1},
 "axis": {"grid": false, "labelFont": "Liberation Serif", "labelFontSize": 15, "labelColor": "black", "titleFont": "Liberation Serif", "titleFontSize": 17.5, "titleFontWeight": "normal", "titleColor": "black", "tickColor": "black", "tickSize": -5, "tickWidth": 1, "domainColor": "#333", "domainWidth": 1, "labelFlush": false, "labelOverlap": false},
 "axisX": {"labelPadding": 18, "titlePadding": -3},
 "axisY": {"labelPadding": 24, "titlePadding": 8, "titleFontSize": 15.5},
 "legend": {"titleFont": "Liberation Serif", "titleFontSize": 17.5, "titleFontWeight": "normal", "titleColor": "black", "titleLimit": 500, "labelFont": "Liberation Serif", "labelFontSize": 17.5, "labelColor": "black", "symbolSize": 289, "symbolStrokeWidth": 1.5, "symbolStrokeColor": "black", "symbolFillColor": "transparent", "symbolOffset": 9.5, "labelOffset": 10, "rowPadding": 9.5, "titlePadding": 8, "padding": 0, "labelLimit": 500},
 "title": {"font": "Liberation Serif", "color": "black"}
}
}
